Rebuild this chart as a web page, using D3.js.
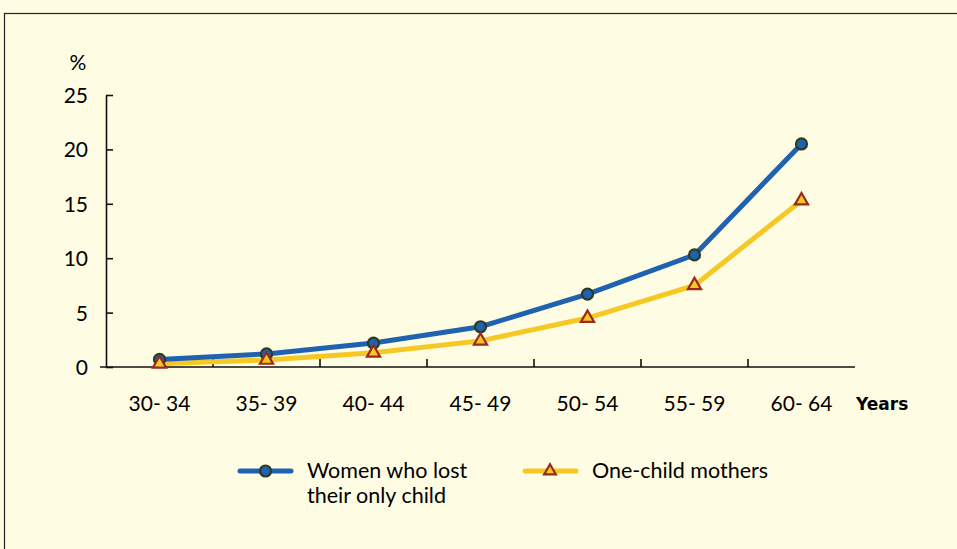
<!DOCTYPE html>
<html>
<head>
<meta charset="utf-8">
<script src="https://cdn.jsdelivr.net/npm/d3@7/dist/d3.min.js"></script>
<style>
  html, body { margin: 0; padding: 0; background: #FEFCE3; }
  svg { display: block; }
  text { font-family: Lato, "Open Sans", sans-serif; fill: #000; }
</style>
</head>
<body>
<svg id="chart" width="957" height="549"></svg>
<script>
// Age groups and the share (%) in each group
const ageGroups = ["30- 34", "35- 39", "40- 44", "45- 49", "50- 54", "55- 59", "60- 64"];
const lostOnlyChild = [0.7, 1.2, 2.2, 3.7, 6.7, 10.3, 20.5];
const oneChildMothers = [0.3, 0.65, 1.3, 2.4, 4.5, 7.5, 15.3];
const yTicks = [0, 5, 10, 15, 20, 25];
const seriesNames = ["Women who lost|their only child", "One-child mothers"];

const svg = d3.select("#chart");
const W = 957, H = 549;

// outer frame
svg.append("rect")
  .attr("x", 4.5).attr("y", 13.5)
  .attr("width", W).attr("height", H)
  .attr("fill", "#FEFCE3")
  .attr("stroke", "#222").attr("stroke-width", 1.2);

const x = d3.scaleBand().domain(ageGroups).range([106, 855]);
const y = d3.scaleLinear().domain([0, 25]).range([367, 95]);

// y axis with inward ticks
const yAxis = svg.append("g").attr("transform", "translate(106,0)")
  .call(d3.axisLeft(y).tickValues(yTicks).tickSizeInner(-7).tickSizeOuter(0).tickPadding(18));
yAxis.select(".domain").attr("stroke", "#111").attr("stroke-width", 1.6);
yAxis.selectAll(".tick line").attr("stroke", "#111").attr("stroke-width", 1.6);
yAxis.selectAll(".tick text").attr("font-size", 21).attr("dy", "0.36em");

// x axis with category boundary ticks pointing up
const xAxis = svg.append("g").attr("transform", "translate(0,367)");
xAxis.append("line").attr("x1", 100).attr("x2", 855).attr("y1", 0).attr("y2", 0)
  .attr("stroke", "#111").attr("stroke-width", 1.6);
xAxis.selectAll("line.bt").data(ageGroups.slice(1)).join("line")
  .attr("class", "bt")
  .attr("x1", d => x(d)).attr("x2", d => x(d))
  .attr("y1", 0).attr("y2", -8)
  .attr("stroke", "#111").attr("stroke-width", 1.6);
xAxis.selectAll("text").data(ageGroups).join("text")
  .attr("x", d => x(d) + x.bandwidth() / 2)
  .attr("y", 44)
  .attr("text-anchor", "middle")
  .attr("font-size", 21)
  .text(d => d);

svg.append("text").attr("x", 78).attr("y", 70).attr("text-anchor", "middle")
  .attr("font-size", 21).text("%");
svg.append("text").attr("x", 856).attr("y", 410)
  .style("font-size", "17px").style("font-weight", "bold")
  .style("font-family", "'DejaVu Sans', sans-serif").text("Years");

const cx = d => x(d) + x.bandwidth() / 2;
const line = d3.line().x((d, i) => cx(ageGroups[i])).y(d => y(d));

const blue = "#1E62B0", yellow = "#F6C823";
const tri = d3.symbol().type(d3.symbolTriangle).size(75);
const triSmall = d3.symbol().type(d3.symbolTriangle).size(60);

svg.append("path").datum(oneChildMothers).attr("d", line)
  .attr("fill", "none").attr("stroke", yellow).attr("stroke-width", 5);
svg.append("path").datum(lostOnlyChild).attr("d", line)
  .attr("fill", "none").attr("stroke", blue).attr("stroke-width", 5);

svg.selectAll("circle.m").data(lostOnlyChild).join("circle")
  .attr("class", "m")
  .attr("cx", (d, i) => cx(ageGroups[i])).attr("cy", d => y(d))
  .attr("r", 5.5).attr("fill", blue).attr("stroke", "#2F3A22").attr("stroke-width", 2.2);

svg.selectAll("path.t").data(oneChildMothers).join("path")
  .attr("class", "t")
  .attr("transform", (d, i) => `translate(${cx(ageGroups[i])},${y(d)})`)
  .attr("d", tri).attr("fill", yellow).attr("stroke", "#9A2A1C").attr("stroke-width", 2.2);

// legend
const lg = svg.append("g");
lg.append("line").attr("x1", 240).attr("x2", 291).attr("y1", 471).attr("y2", 471)
  .attr("stroke", blue).attr("stroke-width", 5).attr("stroke-linecap", "round");
lg.append("circle").attr("cx", 265.5).attr("cy", 471).attr("r", 5.5)
  .attr("fill", blue).attr("stroke", "#2F3A22").attr("stroke-width", 2.2);
const t1 = lg.append("text").attr("x", 307).attr("y", 478).attr("font-size", 21.5);
seriesNames[0].split("|").forEach((s, i) => {
  t1.append("tspan").attr("x", 307).attr("dy", i ? 25 : 0).text(s);
});
lg.append("line").attr("x1", 525).attr("x2", 576).attr("y1", 471).attr("y2", 471)
  .attr("stroke", yellow).attr("stroke-width", 5).attr("stroke-linecap", "round");
lg.append("path").attr("transform", "translate(550,471)").attr("d", triSmall)
  .attr("fill", yellow).attr("stroke", "#9A2A1C").attr("stroke-width", 2.2);
lg.append("text").attr("x", 592).attr("y", 478).attr("font-size", 21.5).text(seriesNames[1]);
</script>
</body>
</html>
